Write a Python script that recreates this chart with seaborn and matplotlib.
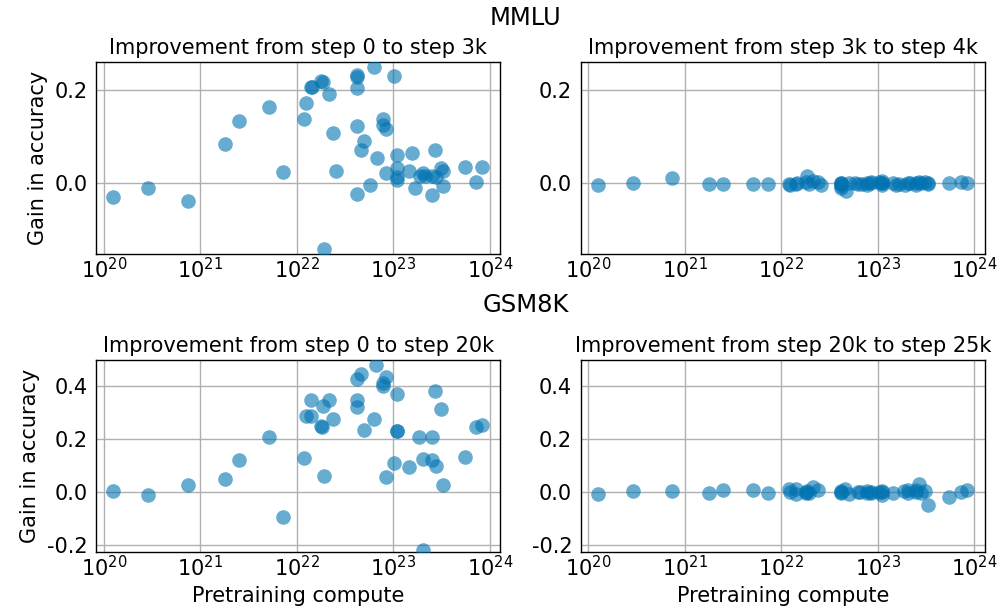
import numpy as np
import pandas as pd
import matplotlib
matplotlib.use("Agg")
import matplotlib.pyplot as plt
import matplotlib.ticker as mticker
import seaborn as sns

# MMLU: pretraining compute (FLOPs) per model and accuracy gains
mmlu_compute = [
    1.25e20, 2.9e20, 7.4e20, 1.8e21, 2.5e21, 5.1e21, 7.2e21,
    1.2e22, 1.24e22, 1.42e22, 1.45e22, 1.78e22, 1.86e22, 2.14e22, 1.93e22, 2.4e22, 2.57e22,
    4.2e22, 4.2e22, 4.2e22, 4.2e22, 4.2e22,
    5.0e22, 4.65e22, 6.3e22, 5.75e22, 6.8e22,
    7.8e22, 7.8e22, 8.5e22, 8.5e22,
    1.02e23, 1.1e23, 1.1e23, 1.1e23, 1.1e23,
    1.45e23, 1.55e23, 1.66e23, 1.9e23, 2.04e23, 2.14e23,
    2.5e23, 2.7e23, 2.5e23, 2.8e23, 3.1e23, 3.3e23, 3.3e23,
    5.5e23, 7.2e23, 8.3e23,
]
mmlu_gain_0_3k = [
    -0.028, -0.009, -0.038, 0.085, 0.134, 0.164, 0.025,
    0.139, 0.173, 0.206, 0.206, 0.219, 0.218, 0.192, -0.140, 0.107, 0.026,
    0.232, 0.228, 0.205, 0.123, -0.023,
    0.091, 0.072, 0.249, -0.003, 0.054,
    0.139, 0.125, 0.117, 0.023,
    0.230, 0.060, 0.034, 0.013, 0.007,
    0.027, 0.066, -0.009, 0.016, 0.023, 0.016,
    0.016, 0.072, -0.024, 0.013, 0.033, 0.027, -0.005,
    0.036, 0.004, 0.036,
]
mmlu_gain_3k_4k = [
    -0.004, 0.001, 0.011, -0.002, -0.002, -0.002, -0.002,
    -0.002, -0.003, -0.001, 0.002, 0.003, 0.015, 0.005, -0.002, 0.003, -0.003,
    -0.002, 0.002, -0.006, -0.010, 0.000,
    0.001, -0.016, -0.001, 0.000, -0.002,
    0.002, -0.003, 0.000, 0.004,
    0.003, 0.000, -0.004, 0.005, 0.001,
    0.001, -0.003, -0.002, -0.004, 0.000, 0.002,
    0.001, 0.003, -0.003, 0.000, 0.003, 0.002, -0.002,
    0.000, 0.004, 0.000,
]

# GSM8K
gsm_compute = [
    1.25e20, 2.9e20, 7.4e20, 1.8e21, 2.5e21, 5.1e21, 7.2e21,
    1.2e22, 1.24e22, 1.42e22, 1.42e22, 1.78e22, 1.82e22, 1.86e22, 2.14e22, 1.93e22, 2.4e22,
    4.2e22, 4.6e22, 4.2e22, 4.2e22, 5.0e22, 6.3e22, 6.6e22, 7.8e22, 7.8e22, 8.5e22, 8.5e22,
    1.02e23, 1.1e23, 1.1e23, 1.1e23,
    1.45e23,
    1.86e23, 2.04e23, 2.04e23,
    2.5e23, 2.5e23, 2.7e23, 2.8e23, 3.1e23, 3.3e23,
    5.5e23, 7.2e23, 8.3e23,
]
gsm_gain_0_20k = [
    0.003, -0.010, 0.028, 0.048, 0.121, 0.206, -0.095,
    0.127, 0.286, 0.286, 0.349, 0.248, 0.244, 0.326, 0.349, 0.061, 0.277,
    0.425, 0.444, 0.349, 0.321, 0.235, 0.277, 0.479, 0.413, 0.400, 0.434, 0.057,
    0.110, 0.368, 0.232, 0.229,
    0.095,
    0.206, 0.124, -0.218,
    0.206, 0.121, 0.381, 0.098, 0.315, 0.025,
    0.133, 0.245, 0.254,
]
gsm_gain_20k_25k = [
    -0.006, 0.003, 0.003, -0.003, 0.006, 0.006, -0.003,
    0.010, 0.002, -0.008, 0.012, -0.005, 0.000, 0.005, 0.020, -0.002, 0.008,
    0.000, 0.012, 0.005, -0.004, -0.006, 0.002, 0.000, -0.002, 0.004, 0.000, -0.005,
    0.002, -0.012, 0.000, 0.003,
    -0.005,
    0.003, 0.008, -0.004,
    0.000, 0.006, 0.030, -0.002, 0.003, -0.048,
    -0.019, 0.000, 0.009,
]

panels = [
    ("Improvement from step 0 to step 3k", mmlu_compute, mmlu_gain_0_3k, "mmlu"),
    ("Improvement from step 3k to step 4k", mmlu_compute, mmlu_gain_3k_4k, "mmlu"),
    ("Improvement from step 0 to step 20k", gsm_compute, gsm_gain_0_20k, "gsm"),
    ("Improvement from step 20k to step 25k", gsm_compute, gsm_gain_20k_25k, "gsm"),
]
ylims = {"mmlu": (-0.151, 0.26), "gsm": (-0.226, 0.498)}

plt.rcParams["font.family"] = ["DejaVu Sans"]
FS = 15

fig, axes = plt.subplots(2, 2, figsize=(9.97, 6.09), dpi=100)
fig.subplots_adjust(left=96 / 997, right=985 / 997, top=1 - 62 / 609,
                    bottom=1 - 552 / 609, wspace=0.198, hspace=0.552)

for ax, (title, xs, ys, key) in zip(axes.flat, panels):
    df = pd.DataFrame({"compute": xs, "gain": ys})
    sns.scatterplot(data=df, x="compute", y="gain", ax=ax, color="#0173b2",
                    alpha=0.6, s=110, linewidth=0, zorder=3)
    ax.set_xscale("log")
    ax.set_xlim(8.3e19, 1.29e24)
    ax.set_ylim(*ylims[key])
    ax.xaxis.set_major_locator(mticker.LogLocator(base=10, numticks=10))
    ax.xaxis.set_minor_locator(mticker.NullLocator())
    ax.yaxis.set_major_locator(mticker.MultipleLocator(0.2))
    ax.yaxis.set_major_formatter(mticker.FormatStrFormatter("%.1f"))
    ax.grid(True, color="#b0b0b0", linewidth=1.0, zorder=0)
    ax.set_axisbelow(True)
    ax.tick_params(axis="y", length=0, labelsize=FS, pad=6)
    ax.tick_params(axis="x", length=0, labelsize=FS, pad=2)
    for sp in ax.spines.values():
        sp.set_color("black")
        sp.set_linewidth(1.0)
    ax.set_title(title, fontsize=FS, pad=6)
    ax.set_xlabel("")
    ax.set_ylabel("")

axes[0, 0].set_ylabel("Gain in accuracy", fontsize=FS, labelpad=5)
axes[1, 0].set_ylabel("Gain in accuracy", fontsize=FS, labelpad=5)
axes[1, 0].set_xlabel("Pretraining compute", fontsize=FS, labelpad=4)
axes[1, 1].set_xlabel("Pretraining compute", fontsize=FS, labelpad=4)

xc = 526 / 997
fig.text(xc, 1 - 18 / 609, "MMLU", ha="center", va="center", fontsize=17.5)
fig.text(xc, 1 - 305 / 609, "GSM8K", ha="center", va="center", fontsize=17.5)

fig.savefig("out.png", dpi=100)
